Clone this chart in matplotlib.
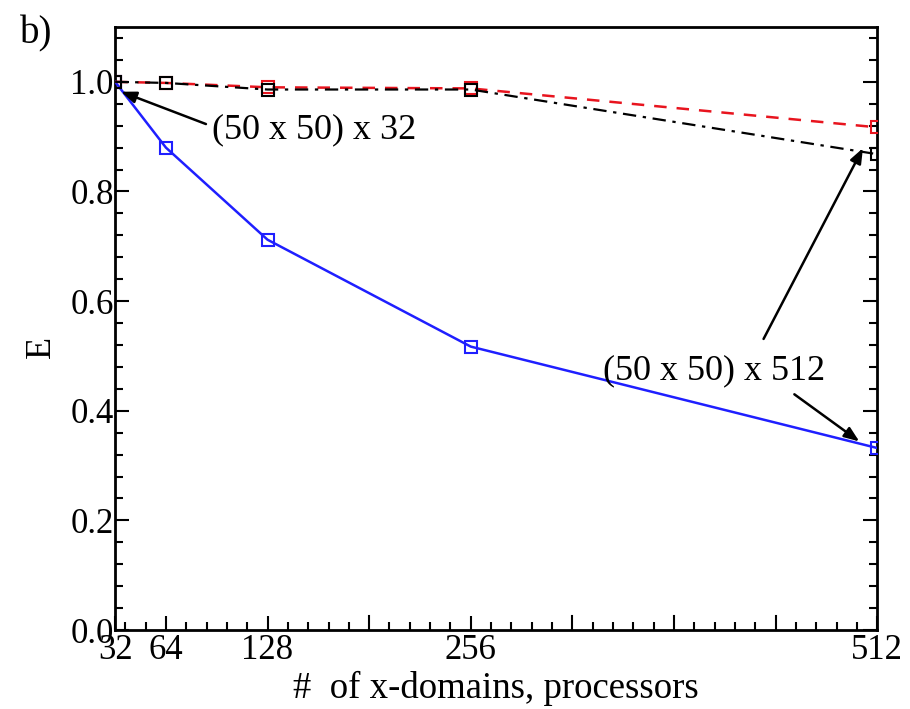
import matplotlib
matplotlib.use("Agg")
import matplotlib.pyplot as plt
from matplotlib.ticker import FixedLocator, MultipleLocator

plt.rcParams['font.family'] = ['Liberation Serif', 'DejaVu Serif']

procs = [32, 64, 128, 256, 512]
eff_blue = [1.0, 0.88, 0.712, 0.517, 0.332]
eff_red = [1.0, 0.998, 0.990, 0.988, 0.917]
eff_black = [1.0, 0.998, 0.986, 0.986, 0.868]
xtick_labels = ['32', '64', '128', '256', '512']
ytick_values = [0.0, 0.2, 0.4, 0.6, 0.8, 1.0]
ytick_labels = ['0.0', '0.2', '0.4', '0.6', '0.8', '1.0']

fig = plt.figure(figsize=(9.1, 7.09), dpi=100)
ax = fig.add_axes([0.1265, 0.1114, 0.8375, 0.8505])

ms = 8.5
ax.plot(procs, eff_blue, color='#1f1fff', lw=1.8, ls='-', marker='s', ms=ms,
        mfc='none', mec='#1f1fff', mew=1.5, zorder=3)
ax.plot(procs, eff_red, color='#e8141e', lw=1.8, ls=(0, (5, 4)), marker='s', ms=ms,
        mfc='none', mec='#e8141e', mew=1.5, zorder=4)
ax.plot(procs, eff_black, color='black', lw=1.6, ls=(0, (6, 3, 1.5, 3)), marker='s', ms=ms,
        mfc='none', mec='black', mew=1.5, zorder=5)

ax.set_xlim(32, 512)
ax.set_ylim(0, 1.1)

ax.set_xticks(procs)
ax.set_xticklabels(xtick_labels)
minor_x = [38.4 + 12.8 * i for i in range(37)]
minor_x = [v for v in minor_x if v < 512 and abs((v / 64) - round(v / 64)) > 1e-6]
ax.xaxis.set_minor_locator(FixedLocator(minor_x))

ax.set_yticks(ytick_values)
ax.set_yticklabels(ytick_labels)
ax.yaxis.set_minor_locator(MultipleLocator(0.04))

ax.tick_params(axis='both', which='both', direction='in', labelsize=25, width=1.5)
ax.tick_params(axis='both', which='major', length=10)
ax.tick_params(axis='both', which='minor', length=5.5)
ax.tick_params(axis='y', which='both', right=True, pad=1)
ax.tick_params(axis='x', which='major', pad=3)

# unlabeled major x-ticks at 192, 320, 384, 448
for xv in [192, 320, 384, 448]:
    ax.plot([xv, xv], [0, 0.0255], color='black', lw=1.5, zorder=1, clip_on=False)

for sp in ax.spines.values():
    sp.set_linewidth(2.0)

ax.set_xlabel('#  of x-domains, processors', fontsize=26.5, labelpad=3)
ax.set_ylabel('E', fontsize=26)
ax.yaxis.set_label_coords(-0.075, 0.47)

arrow_kw = dict(arrowstyle='-|>,head_length=0.9,head_width=0.35', color='black', lw=1.8,
                shrinkA=0, shrinkB=0)
ax.annotate('', xy=(35.8, 0.982), xytext=(89.2, 0.923), arrowprops=arrow_kw, zorder=6)
ax.text(93, 0.912, '(50 x 50) x 32', fontsize=26, va='center', ha='left')
ax.annotate('', xy=(503, 0.879), xytext=(440.4, 0.531), arrowprops=arrow_kw, zorder=6)
ax.annotate('', xy=(500.7, 0.344), xytext=(459.8, 0.430), arrowprops=arrow_kw, zorder=6)
ax.text(339, 0.4725, '(50 x 50) x 512', fontsize=26, va='center', ha='left')

fig.text(0.022, 0.952, 'b)', fontsize=28, va='center', ha='left')

fig.savefig('out.png', dpi=100)
